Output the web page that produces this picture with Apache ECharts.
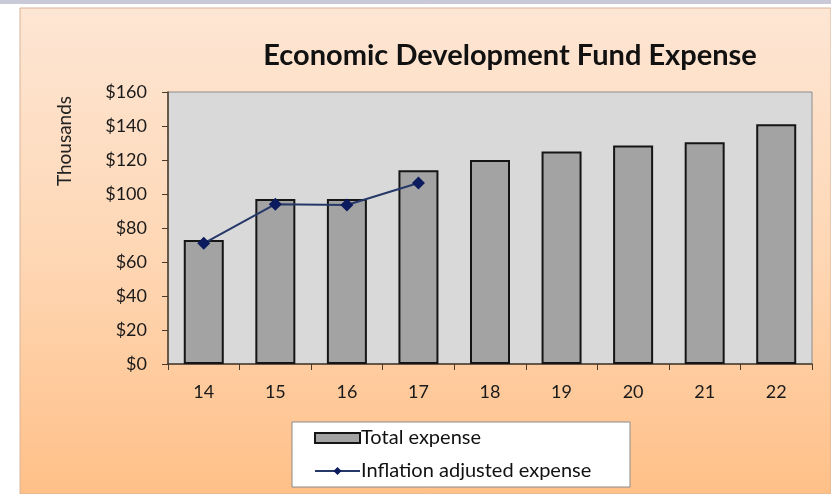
<!DOCTYPE html>
<html>
<head>
<meta charset="utf-8">
<script src="https://cdn.jsdelivr.net/npm/echarts@6/dist/echarts.min.js"></script>
<style>
  html, body { margin: 0; padding: 0; background: #ffffff; }
  #chart { width: 831px; height: 494px; }
</style>
</head>
<body>
<div id="chart"></div>
<script>
// Fiscal years (two-digit) on the category axis
const years = ['14', '15', '16', '17', '18', '19', '20', '21', '22'];
// Total expense, in thousands of dollars
const totalExpense = [73, 97, 97, 114, 120, 125, 128.5, 130.5, 141];
// Inflation adjusted expense, only for the first four years
const inflationAdjusted = [71, 94, 93.5, 106.5, '-', '-', '-', '-', '-'];
// Value axis ticks
const yTicks = [0, 20, 40, 60, 80, 100, 120, 140, 160];

const FONT = 'Lato, "Open Sans", sans-serif';
const chart = echarts.init(document.getElementById('chart'), null, { renderer: 'canvas' });

chart.setOption({
  animation: false,
  textStyle: { fontFamily: FONT },
  graphic: [
    // thin strip along the top of the page
    { type: 'rect', z: -10, shape: { x: 0, y: 0, width: 831, height: 4 },
      style: { fill: '#c9c9d8' } },
    // chart panel with a peach-to-orange fill
    { type: 'rect', z: -9, shape: { x: 20, y: 8, width: 811, height: 486 },
      style: {
        fill: new echarts.graphic.LinearGradient(0, 0, 0, 1, [
          { offset: 0, color: '#fde6d4' },
          { offset: 0.5, color: '#fed7b5' },
          { offset: 1, color: '#ffc088' }
        ]),
        stroke: '#d9b49a', lineWidth: 1
      } },
    // axis unit label
    { type: 'text', x: 65, y: 141, rotation: Math.PI / 2,
      style: { text: 'Thousands', font: '19px ' + FONT, fill: '#222',
               textAlign: 'center', textVerticalAlign: 'middle' } },
    // legend frame
    { type: 'rect', z: 0, shape: { x: 292, y: 422, width: 338, height: 65 },
      style: { fill: '#ffffff', stroke: '#8a8a8a', lineWidth: 1 } }
  ],
  title: {
    text: 'Economic Development Fund Expense',
    left: 505, top: 36, textAlign: 'center',
    textStyle: { fontFamily: FONT, fontWeight: 'bold', fontSize: 29, color: '#111' }
  },
  grid: {
    left: 168, top: 92, width: 644, height: 272,
    show: true, backgroundColor: '#d9d9d9', borderColor: '#8c8c8c', borderWidth: 1
  },
  legend: {
    orient: 'vertical', left: 314, top: 428, itemGap: 13,
    itemWidth: 45, itemHeight: 10, padding: 0, z: 5,
    textStyle: { fontFamily: FONT, fontSize: 20, color: '#111', padding: [0, 0, 0, -4] },
    data: [
      { name: 'Total expense', icon: 'rect' },
      { name: 'Inflation adjusted expense' }
    ]
  },
  xAxis: {
    type: 'category', data: years, boundaryGap: true,
    axisLine: { lineStyle: { color: '#4a3a2a', width: 1.5 } },
    axisTick: { show: true, interval: 0, length: 6, lineStyle: { color: '#4a3a2a' } },
    axisLabel: { margin: 19, fontSize: 18, color: '#1a1a1a', fontFamily: FONT }
  },
  yAxis: {
    type: 'value', min: yTicks[0], max: yTicks[yTicks.length - 1], interval: 20,
    axisLine: { show: true, lineStyle: { color: '#4a3a2a', width: 1.5 } },
    axisTick: { show: true, length: 6, lineStyle: { color: '#4a3a2a' } },
    splitLine: { show: false },
    axisLabel: { margin: 21, fontSize: 18, color: '#1a1a1a', fontFamily: FONT,
                 formatter: v => '$' + v }
  },
  series: [
    {
      name: 'Total expense', type: 'bar', data: totalExpense, barWidth: 40,
      itemStyle: { color: '#a3a3a3', borderColor: '#151515', borderWidth: 2 }
    },
    {
      name: 'Inflation adjusted expense', type: 'line', data: inflationAdjusted,
      symbol: 'diamond', symbolSize: 13,
      lineStyle: { color: '#253868', width: 2 },
      itemStyle: { color: '#0c1a5e' }
    }
  ]
});
</script>
</body>
</html>
